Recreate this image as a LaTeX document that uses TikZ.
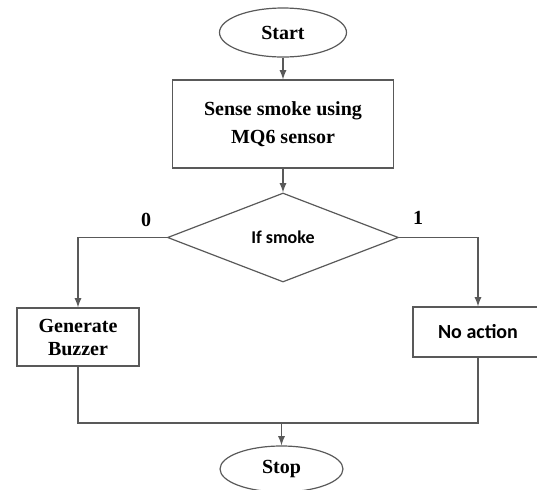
\documentclass[tikz,border=0pt]{standalone}
\usepackage{fontspec}
\setmainfont{Liberation Serif}[BoldFont={Liberation Serif Bold}]
\newfontfamily\calibfont{Carlito}[BoldFont={Carlito Bold}]
\usetikzlibrary{shapes.geometric}
\begin{document}
\begin{tikzpicture}[x=0.5pt,y=-0.5pt,line width=0.6pt,
    every node/.style={font=\rmfamily\fontsize{10}{14}\selectfont\bfseries},
    flowline/.style={draw=black!65},
    terminal/.style={draw=black!65,ellipse,inner sep=0pt},
    process/.style={draw=black!65,rectangle,inner sep=0pt,align=center},
    decision/.style={draw=black!65,diamond,inner sep=0pt,aspect=2.6}]
  \useasboundingbox (0,0) rectangle (537,489);
  \node[terminal,minimum width=63.5pt,minimum height=24.5pt] (start) at (283,32.5) {Start};
  \node[process,minimum width=110.5pt,minimum height=44pt] (sense) at (283,124) {Sense smoke using\\MQ6 sensor};
  \node[decision,minimum width=115.5pt,minimum height=44.5pt,font=\calibfont\fontsize{9}{11}\selectfont\bfseries] (test) at (283,237.5) {If smoke};
  \node[process,minimum width=61pt,minimum height=29pt,font=\rmfamily\fontsize{10}{11.5}\selectfont\bfseries] (gen) at (78,337) {Generate\\Buzzer};
  \node[process,minimum width=65pt,minimum height=25pt,font=\calibfont\fontsize{10}{12}\selectfont\bfseries] (noact) at (478,332) {No action};
  \node[terminal,minimum width=61.5pt,minimum height=23pt] (stop) at (281.5,469) {Stop};
  \node (zero) at (146,220) {0};
  \node (one) at (418,218) {1};
  \coordinate (join) at (281.5,423);
  \draw[flowline,-latex] (start) -- (sense);
  \draw[flowline,-latex] (sense) -- (test);
  \draw[flowline,-latex] (test.west) -| (gen.north);
  \draw[flowline,-latex] (test.east) -| (noact.north);
  \draw[flowline] (gen.south) |- (join) -| (noact.south);
  \draw[flowline,-latex] (join) -- (stop.north);
\end{tikzpicture}
\end{document}
